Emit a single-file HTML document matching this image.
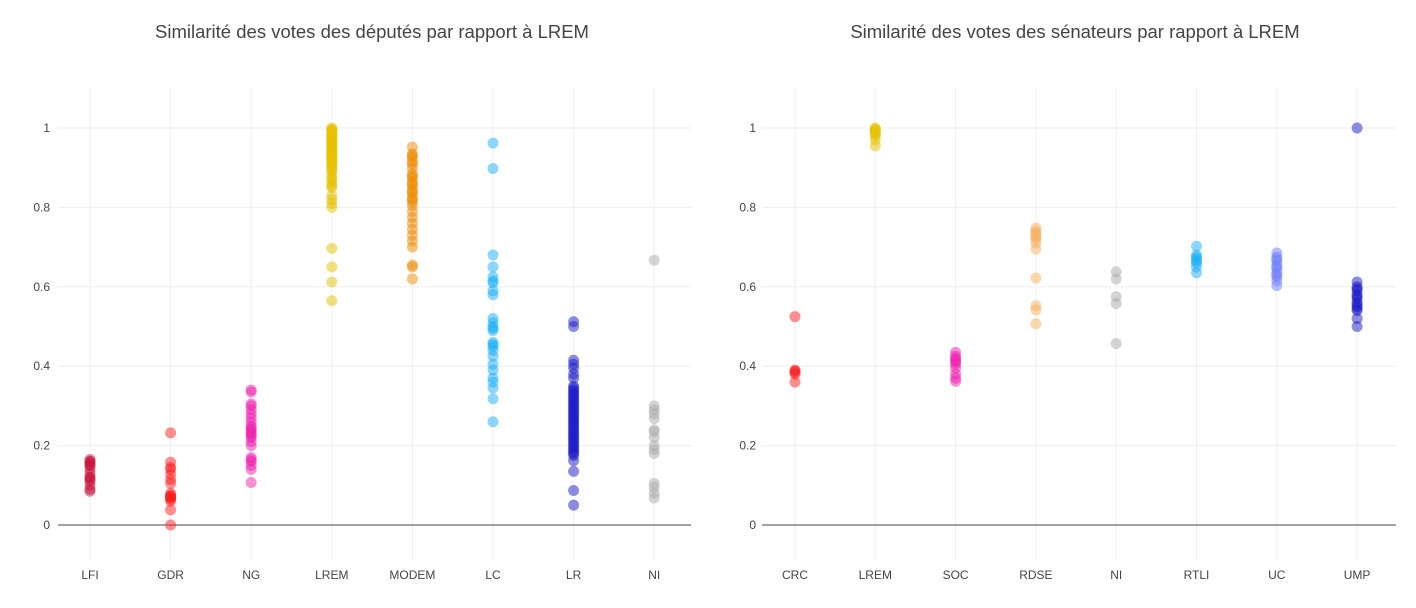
<!DOCTYPE html>
<html><head><meta charset="utf-8">
<style>
body{margin:0;background:#fff;font-family:"Liberation Sans",sans-serif;}
svg{display:block}
</style></head>
<body>
<svg id="chart" width="1416" height="608"></svg>
<script>
// Left chart data (députés)
const depCategories = ["LFI","GDR","NG","LREM","MODEM","LC","LR","NI"];
const depColors = ["#c8163c","#ff1e1e","#f020b0","#e6c200","#f08a00","#1ab0f8","#1a1ac8","#aaaaaa"];
const depValues = [
  [0.165,0.16,0.155,0.15,0.14,0.13,0.12,0.115,0.12,0.11,0.1,0.09,0.085,0.16,0.15],
  [0.232,0.158,0.145,0.14,0.128,0.115,0.105,0.08,0.075,0.07,0.065,0.06,0.072,0.068,0.038,0.0],
  [0.34,0.335,0.305,0.3,0.29,0.28,0.27,0.26,0.25,0.24,0.23,0.22,0.21,0.2,0.17,0.165,0.16,0.15,0.14,0.107,0.235,0.245,0.225],
  [1,0.995,0.99,0.985,0.98,0.975,0.97,0.965,0.96,0.955,0.95,0.945,0.94,0.935,0.93,0.925,0.92,0.915,0.91,0.905,0.9,0.89,0.88,0.87,0.86,0.85,0.83,0.82,0.81,0.8,0.997,0.992,0.982,0.972,0.962,0.952,0.942,0.932,0.922,0.912,0.895,0.875,0.855,0.697,0.65,0.612,0.565],
  [0.952,0.935,0.925,0.915,0.9,0.885,0.875,0.865,0.855,0.845,0.835,0.825,0.815,0.805,0.79,0.775,0.76,0.745,0.73,0.715,0.7,0.93,0.91,0.88,0.86,0.84,0.82,0.655,0.65,0.62],
  [0.962,0.898,0.68,0.65,0.625,0.615,0.61,0.59,0.58,0.52,0.51,0.5,0.49,0.46,0.45,0.44,0.425,0.405,0.39,0.37,0.36,0.345,0.318,0.26,0.495,0.455],
  [0.512,0.5,0.415,0.405,0.395,0.38,0.37,0.35,0.34,0.33,0.32,0.31,0.3,0.29,0.28,0.27,0.26,0.25,0.24,0.23,0.22,0.21,0.2,0.19,0.18,0.345,0.335,0.325,0.315,0.305,0.295,0.285,0.275,0.265,0.255,0.245,0.235,0.225,0.215,0.205,0.195,0.185,0.175,0.162,0.135,0.087,0.05],
  [0.667,0.3,0.29,0.28,0.268,0.24,0.235,0.22,0.2,0.19,0.18,0.105,0.095,0.08,0.068]
];
// Right chart data (sénateurs)
const senCategories = ["CRC","LREM","SOC","RDSE","NI","RTLI","UC","UMP"];
const senColors = ["#ff1e1e","#e6c200","#f020b0","#f5b060","#aaaaaa","#1ab0f8","#7080ff","#1a1ac8"];
const senValues = [
  [0.525,0.39,0.385,0.38,0.388,0.36],
  [1,0.995,0.99,0.985,0.98,0.97,0.955,0.998,0.992],
  [0.435,0.425,0.415,0.405,0.395,0.38,0.37,0.362,0.42,0.41],
  [0.748,0.74,0.73,0.72,0.71,0.695,0.735,0.725,0.622,0.552,0.542,0.507],
  [0.638,0.62,0.575,0.558,0.457],
  [0.702,0.68,0.67,0.66,0.65,0.635,0.675,0.665],
  [0.685,0.675,0.665,0.655,0.645,0.635,0.625,0.615,0.603,0.67,0.65,0.63],
  [1.0,0.612,0.6,0.59,0.58,0.57,0.56,0.55,0.54,0.52,0.5,0.595,0.575,0.555,0.545]
];
const yTicks = [0,0.2,0.4,0.6,0.8,1];

const svg = document.getElementById('chart');
const NS = "http://www.w3.org/2000/svg";
function mk(tag, attrs, parent){
  const e = document.createElementNS(NS, tag);
  for (const k in attrs) e.setAttribute(k, attrs[k]);
  (parent||svg).appendChild(e);
  return e;
}
function yScale(v){ return 525 - v*397; }

function drawChart(prefix, title, titleX, cats, colors, values, x0, x1, cat0, catStep, tickX){
  const g = mk('g', {});
  
  
  const xScale = i => cat0 + i*catStep;
  const t = mk('text', {x:titleX, y:38, 'text-anchor':'middle', 'font-size':18.5, fill:'#444'}, g);
  t.textContent = title;
  
  
  cats.forEach((c,i)=>{
    const l = mk('line', {x1:xScale(i), x2:xScale(i), y1:88, y2:560, stroke:'#eee', 'stroke-width':1}, g);
    
    
    const lab = mk('text', {x:xScale(i), y:579, 'text-anchor':'middle', 'font-size':12, fill:'#444'}, g);
    lab.textContent = c;
    
    
  });
  yTicks.forEach(v=>{
    const y = yScale(v);
    const l = mk('line', {x1:x0, x2:x1, y1:y, y2:y, stroke: v===0?'#444':'#eee', 'stroke-width':1}, g);
    
    
    const lab = mk('text', {x:tickX, y:y+4, 'text-anchor':'end', 'font-size':12, fill:'#444'}, g);
    lab.textContent = String(v);
    
    
  });
  values.forEach((arr,i)=>{
    arr.forEach(v=>{
      const c = mk('circle', {cx:xScale(i), cy:yScale(v), r:5.5, fill:colors[i], 'fill-opacity':0.5}, g);
      
      
    });
  });
}
drawChart('deputes', "Similarité des votes des députés par rapport à LREM", 372, depCategories, depColors, depValues, 58, 691, 90, 80.6, 50);
drawChart('senateurs', "Similarité des votes des sénateurs par rapport à LREM", 1075, senCategories, senColors, senValues, 762, 1396, 795, 80.3, 756);
</script>
</body></html>
